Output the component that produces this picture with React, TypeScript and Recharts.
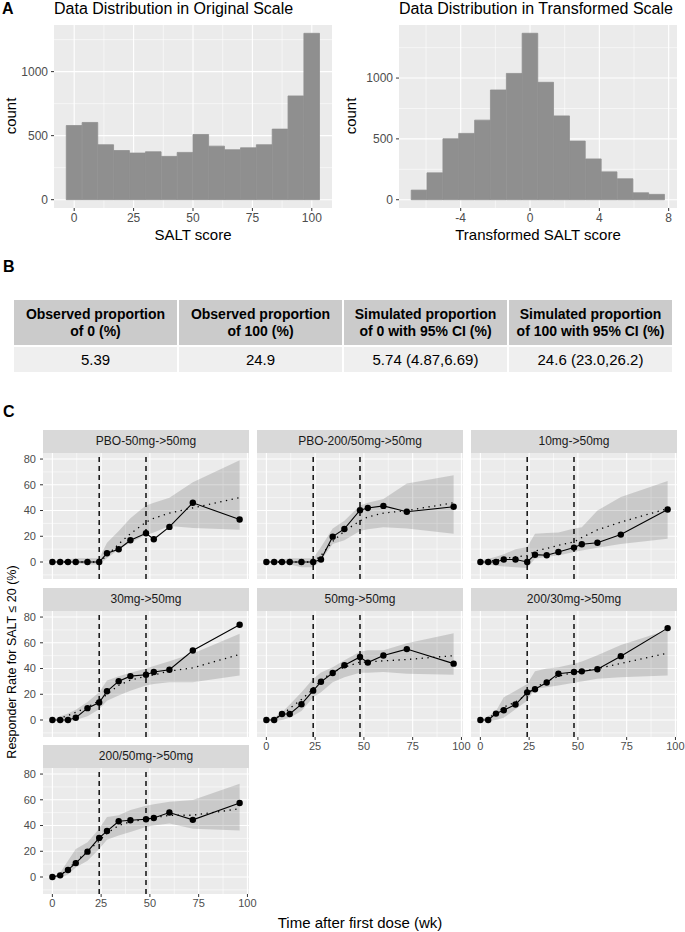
import React from "react";
import {
  ComposedChart, Bar, Area, Line, XAxis, YAxis, CartesianGrid, ReferenceLine,
} from "recharts";

// Panel A: histogram bin centres and counts
const saltMid = [0, 6.67, 13.33, 20, 26.67, 33.33, 40, 46.67, 53.33, 60, 66.67, 73.33, 80, 86.67, 93.33, 100];
const saltCount = [579, 603, 429, 384, 364, 374, 338, 369, 509, 418, 390, 405, 429, 551, 810, 1299];
const transMid = [-6.4, -5.49, -4.57, -3.66, -2.74, -1.83, -0.91, 0, 0.91, 1.83, 2.74, 3.66, 4.57, 5.49, 6.4, 7.31];
const transCount = [79, 221, 501, 545, 654, 902, 1038, 1368, 965, 689, 482, 335, 229, 172, 57, 44];

// Panel B: table
const tableHeaders = [
  ["Observed proportion", "of 0 (%)"],
  ["Observed proportion", "of 100 (%)"],
  ["Simulated proportion", "of 0 with 95% CI (%)"],
  ["Simulated proportion", "of 100 with 95% CI (%)"],
];
const tableValues = ["5.39", "24.9", "5.74 (4.87,6.69)", "24.6 (23.0,26.2)"];

// Panel C: responder rate by week
const weeks = [0, 4, 8, 12, 18, 24, 28, 34, 40, 48, 52, 60, 72, 96];
const xTicks = [0, 25, 50, 75, 100];
const xMinor = [12.5, 37.5, 62.5, 87.5];
const yTicks = [0, 20, 40, 60, 80];
const yMinor = [-10, 10, 30, 50, 70];

const facets = [
  {
    title: "PBO-50mg->50mg",
    obs: [0, 0, 0, 0, 0, 0, 6.8, 9.9, 16.9, 22.3, 17.7, 27.3, 46, 33],
    med: [0, 0, 0, 0, 0, 0, 5, 14, 22, 31, 34, 38, 42, 50],
    lo: [0, 0, 0, -1, -2, -2, 3, 10, 15, 21, 23, 28, 26.5, 25],
    hi: [0, 1, 2, 3, 3, 3, 15, 24, 34, 44, 46, 50, 62, 79],
  },
  {
    title: "PBO-200/50mg->50mg",
    obs: [0, 0, 0, 0, 0, 0, 2, 19.7, 25.7, 40.3, 42, 43.6, 39, 42.9],
    med: [0, 0, 0, 0, 0, 0, 5, 16, 24, 32, 35, 38, 40, 46],
    lo: [0, 0, -1, -2, -4, -4, 1.3, 14, 17, 24, 25.5, 27, 26, 22],
    hi: [0, 1, 2, 3, 3, 3, 11.7, 26, 32, 44, 46, 49, 61, 67.5],
  },
  {
    title: "10mg->50mg",
    obs: [0, 0, 0, 2, 2, 0, 5.7, 5.2, 7.8, 11.2, 13.8, 15, 21.3, 40.8],
    med: [0, 0.5, 1.3, 2.5, 4, 5, 8.5, 10.5, 13, 15.6, 19, 25, 31, 41.5],
    lo: [-1, -2, -3, -3.5, -4, -4.7, 2.6, 4, 5, 7.8, 9, 11, 14, 18],
    hi: [1, 2.5, 4, 6, 10, 11.7, 22, 22.5, 23, 26, 27, 40, 50.6, 63],
  },
  {
    title: "30mg->50mg",
    obs: [0, 0, 0, 1.8, 9.2, 13.6, 22.3, 30.2, 34.1, 35.2, 37.3, 39.1, 54, 74],
    med: [0, 1.5, 3.5, 6, 10, 15, 20, 27, 31, 34, 35, 38, 40.5, 51],
    lo: [0, -1, -1.5, 0, 3, 8.4, 15, 19, 22.8, 26.8, 28, 29.4, 29.4, 34.6],
    hi: [0, 3, 5, 8, 14, 21.5, 30.7, 34, 36.7, 40, 42, 45.7, 51.7, 67],
  },
  {
    title: "50mg->50mg",
    obs: [0, 0, 4.7, 4.7, 12.3, 22.8, 29.7, 36.5, 42.5, 49, 44.6, 50.1, 55.1, 43.8],
    med: [0, 1, 4, 9, 16, 24, 31, 37, 41, 45, 45, 46, 47, 50],
    lo: [0, -1, 0, 1.8, 7, 17.6, 21.5, 29.4, 33.3, 36.7, 36.7, 37.3, 36, 35.2],
    hi: [0, 2, 6, 12, 21.5, 32, 37, 41, 46.5, 53, 54.3, 54.3, 59.6, 67.5],
  },
  {
    title: "200/30mg->50mg",
    obs: [0, 0, 5, 7.6, 12, 21.5, 23.9, 29.1, 36, 37.3, 37.8, 39.4, 49.6, 71.4],
    med: [0, 1.5, 5, 10, 14, 20, 25, 30, 34, 37, 38, 40, 44, 52],
    lo: [0, -1, 0, 1.8, 8.4, 15, 24, 25.5, 26.8, 28.9, 30, 32, 33.3, 34.6],
    hi: [0, 3, 7, 17.6, 22.8, 28, 37.8, 40, 41, 43.8, 45.5, 50.4, 58.3, 70],
  },
  {
    title: "200/50mg->50mg",
    obs: [0, 1.3, 5.5, 10.8, 19.7, 30.4, 35.7, 43.3, 44.1, 44.9, 45.9, 50.1, 44.4, 57.5],
    med: [0, 1.5, 6, 12, 20, 28, 34, 40, 43, 45, 46, 48, 48, 53],
    lo: [0, -1, 2, 7.3, 12.6, 21.8, 28.9, 32.3, 35, 38.8, 40, 41.5, 37.5, 36.2],
    hi: [0, 3.4, 12.6, 21.8, 27, 37.5, 46.7, 48, 52, 55.4, 56.5, 58.5, 59.8, 72.4],
  },
];

const FONT = "'Liberation Sans', Arial, Helvetica, sans-serif";
const TICK = { fill: "#4D4D4D", fontSize: 12, fontFamily: FONT };
const PANEL_BG = "#EBEBEB";
const BAR_FILL = "#8f8f8f";

const abs = (left: number, top: number, extra: any = {}) =>
  ({ position: "absolute", left, top, ...extra } as React.CSSProperties);

function Histogram({ mids, counts, xDomain, xTicks, xMinor, yDomain, yAxisW, width, binW }: any) {
  const data = mids.map((m: number, i: number) => ({ mid: m, count: counts[i] }));
  const plotW = width - yAxisW - 8;
  // a hair narrower than the bin so recharts does not shrink it; stroke closes the seam
  const barSize = ((plotW * binW) / (xDomain[1] - xDomain[0])) * 0.985;
  return (
    <ComposedChart width={width} height={250} data={data} margin={{ top: 25, right: 8, bottom: 0, left: 0 }}>
      <CartesianGrid fill={PANEL_BG} stroke="#fff" strokeWidth={0.55}
        horizontalValues={[250, 750, 1250]} verticalValues={xMinor} />
      <CartesianGrid stroke="#fff" strokeWidth={1.1}
        horizontalValues={[0, 500, 1000]} verticalValues={xTicks} />
      <XAxis type="number" dataKey="mid" domain={xDomain} ticks={xTicks} allowDataOverflow
        height={42} axisLine={false} tickSize={3} tickMargin={2} interval={0}
        tickLine={{ stroke: "#333" }} tick={TICK} />
      <YAxis type="number" domain={yDomain} ticks={[0, 500, 1000]} allowDataOverflow
        width={yAxisW} axisLine={false} tickSize={3} tickMargin={3} interval={0}
        tickLine={{ stroke: "#333" }} tick={TICK} />
      <Bar dataKey="count" fill={BAR_FILL} stroke={BAR_FILL} strokeWidth={0.8}
        barSize={barSize} isAnimationActive={false} />
    </ComposedChart>
  );
}

const PW = 206;
const PH = 126;
const STRIP_H = 23;
const colLeft = [43, 257, 471];
const rowTop = [453, 611, 768];

function Facet({ f, left, top, showX, showY }: any) {
  const rows = weeks.map((t, i) => ({ t, obs: f.obs[i], med: f.med[i], band: [f.lo[i], f.hi[i]] }));
  const yw = showY ? 40 : 0;
  const tick = { ...TICK, fontSize: 11 };
  return (
    <>
      <div style={abs(left, top - STRIP_H, {
        width: PW, height: STRIP_H, background: "#D9D9D9", color: "#1A1A1A",
        fontSize: 12, lineHeight: `${STRIP_H}px`, textAlign: "center", fontFamily: FONT,
      })}>{f.title}</div>
      <div style={abs(left - yw, top)}>
        <ComposedChart width={yw + PW + 12} height={PH + (showX ? 22 : 0)} data={rows}
          margin={{ top: 0, right: 12, bottom: 0, left: 0 }}>
          <CartesianGrid fill={PANEL_BG} stroke="#fff" strokeWidth={0.55}
            horizontalValues={yMinor} verticalValues={xMinor} />
          <CartesianGrid stroke="#fff" strokeWidth={1.1}
            horizontalValues={yTicks} verticalValues={xTicks} />
          <XAxis type="number" dataKey="t" domain={[-4.8, 100.8]} ticks={xTicks} allowDataOverflow
            hide={!showX} height={22} axisLine={false} tickSize={3} tickMargin={2} interval={0}
            tickLine={{ stroke: "#333" }} tick={tick} />
          <YAxis type="number" domain={[-13.2, 84.7]} ticks={yTicks} allowDataOverflow
            hide={!showY} width={40} axisLine={false} tickSize={3} tickMargin={4} interval={0}
            tickLine={{ stroke: "#333" }} tick={tick} />
          <Area type="linear" dataKey="band" fill="#000" fillOpacity={0.14} stroke="none"
            isAnimationActive={false} />
          <ReferenceLine x={24} stroke="#000" strokeWidth={1.4} strokeDasharray="5 4" />
          <ReferenceLine x={48} stroke="#000" strokeWidth={1.4} strokeDasharray="5 4" />
          <Line type="linear" dataKey="med" stroke="#000" strokeWidth={1.3} strokeDasharray="1.3 4.5"
            dot={false} isAnimationActive={false} />
          <Line type="linear" dataKey="obs" stroke="#000" strokeWidth={1.1}
            dot={{ r: 3.2, fill: "#000", stroke: "#000", strokeWidth: 0 }} isAnimationActive={false} />
        </ComposedChart>
      </div>
    </>
  );
}

const layout = [
  [0, 0], [0, 1], [0, 2],
  [1, 0], [1, 1], [1, 2],
  [2, 0],
];

export default function App() {
  const title = { fontSize: 16, lineHeight: "16px", fontFamily: FONT, color: "#000", whiteSpace: "nowrap" as const };
  const axTitle = { fontSize: 15, fontFamily: FONT, color: "#000", whiteSpace: "nowrap" as const };
  const cell: React.CSSProperties = {
    border: "2px solid #fff", textAlign: "center", padding: 0, whiteSpace: "nowrap",
  };
  return (
    <div style={{ position: "absolute", left: 0, top: 0, width: 685, height: 932, background: "#fff", overflow: "hidden" }}>
      {/* A */}
      <div style={abs(2, 1, { ...title, fontWeight: "bold" })}>A</div>
      <div style={abs(54, 1, title)}>Data Distribution in Original Scale</div>
      <div style={abs(399, 1, title)}>Data Distribution in Transformed Scale</div>
      <div style={abs(0, 0)}>
        <Histogram mids={saltMid} counts={saltCount} xDomain={[-8.5, 108.5]} xTicks={[0, 25, 50, 75, 100]}
          xMinor={[12.5, 37.5, 62.5, 87.5]} yDomain={[-65, 1364]} yAxisW={54} width={340} binW={6.667} />
      </div>
      <div style={abs(340, 0)}>
        <Histogram mids={transMid} counts={transCount} xDomain={[-7.56, 8.48]} xTicks={[-4, 0, 4, 8]}
          xMinor={[-6, -2, 2, 6]} yDomain={[-68, 1436]} yAxisW={59} width={345} binW={0.914} />
      </div>
      <div style={abs(193, 226, { ...axTitle, transform: "translateX(-50%)" })}>SALT score</div>
      <div style={abs(538, 226, { ...axTitle, transform: "translateX(-50%)" })}>Transformed SALT score</div>
      <div style={abs(10, 116, { ...axTitle, transform: "translate(-50%,-50%) rotate(-90deg)" })}>count</div>
      <div style={abs(350, 116, { ...axTitle, transform: "translate(-50%,-50%) rotate(-90deg)" })}>count</div>

      {/* B */}
      <div style={abs(3, 259, { ...title, fontWeight: "bold" })}>B</div>
      <table style={abs(12, 298, {
        width: 662, borderCollapse: "collapse", tableLayout: "fixed",
        fontFamily: FONT, color: "#000",
      })}>
        <tbody>
          <tr style={{ background: "#CBCBCB", height: 47 }}>
            {tableHeaders.map((h, i) => (
              <td key={i} style={{ ...cell, fontWeight: "bold", fontSize: 14, lineHeight: "17px" }}>{h[0]}<br />{h[1]}</td>
            ))}
          </tr>
          <tr style={{ background: "#EFEFEF", height: 27 }}>
            {tableValues.map((v, i) => (
              <td key={i} style={{ ...cell, fontSize: 15 }}>{v}</td>
            ))}
          </tr>
        </tbody>
      </table>

      {/* C */}
      <div style={abs(3, 404, { ...title, fontWeight: "bold" })}>C</div>
      {facets.map((f, i) => {
        const [r, c] = layout[i];
        const showX = r === 2 || (r === 1 && c > 0);
        return <Facet key={f.title} f={f} left={colLeft[c]} top={rowTop[r]} showX={showX} showY={c === 0} />;
      })}
      <div style={abs(12, 662, { ...axTitle, fontSize: 12.5, transform: "translate(-50%,-50%) rotate(-90deg)" })}>
        Responder Rate for SALT ≤ 20 (%)
      </div>
      <div style={abs(360, 914, { ...axTitle, transform: "translateX(-50%)" })}>Time after first dose (wk)</div>
    </div>
  );
}
